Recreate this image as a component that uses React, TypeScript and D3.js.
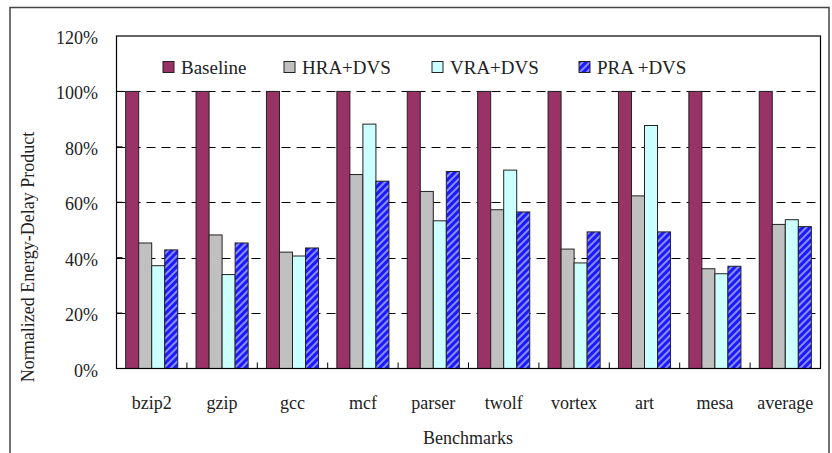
import React from 'react';
import * as d3 from 'd3';

// Benchmarks on the x axis
const categories = ['bzip2', 'gzip', 'gcc', 'mcf', 'parser', 'twolf', 'vortex', 'art', 'mesa', 'average'];

// Normalized energy-delay product (%) per configuration
const baseline = [100, 100, 100, 100, 100, 100, 100, 100, 100, 100];
const hraDvs = [45.3, 48.2, 42.0, 70.0, 63.9, 57.3, 43.1, 62.3, 36.0, 52.0];
const vraDvs = [37.1, 33.9, 40.6, 88.2, 53.3, 71.6, 38.1, 87.7, 34.2, 53.7];
const praDvs = [42.8, 45.3, 43.5, 67.6, 71.1, 56.5, 49.3, 49.3, 36.9, 51.2];

const seriesNames = ['Baseline', 'HRA+DVS', 'VRA+DVS', 'PRA +DVS'];
const yTicks = [0, 20, 40, 60, 80, 100, 120];

const W = 832;
const H = 453;
const plot = { left: 116.5, right: 820.5, top: 36, bottom: 368.5 };
const FONT = '"Liberation Serif", "Times New Roman", serif';

const fills = ['#993366', '#C0C0C0', '#CCFFFF', 'url(#praHatch)'];

export default function App() {
  const series = [baseline, hraDvs, vraDvs, praDvs];

  const x = d3.scaleBand<string>().domain(categories).range([plot.left, plot.right]).padding(0);
  const groupW = x.bandwidth() * 0.74;
  const xInner = d3
    .scaleBand<string>()
    .domain(seriesNames)
    .range([0, groupW])
    .padding(0);
  const y = d3.scaleLinear().domain([0, 120]).range([plot.bottom, plot.top]);
  const fmt = (v: number) => `${v}%`;

  const legendX = [163, 284, 432, 579];

  return (
    <svg
      width={W}
      height={H}
      style={{ position: 'absolute', left: 0, top: 0, background: '#fff' }}
      fontFamily={FONT}
    >
      <defs>
        <pattern id="praHatch" patternUnits="userSpaceOnUse" width="5" height="5" patternTransform="rotate(45)">
          <rect width="5" height="5" fill="#1a1aff" />
          <rect width="2" height="5" fill="#8c8cff" />
        </pattern>
      </defs>

      {/* outer chart frame */}
      <rect x={10} y={7.5} width={819} height={460} fill="#fff" stroke="#444" strokeWidth={1.5} />

      {/* dashed gridlines */}
      {yTicks
        .filter((t) => t > 0 && t < 120)
        .map((t) => (
          <line
            key={`g${t}`}
            x1={plot.left}
            x2={plot.right}
            y1={Math.round(y(t)) + 0.5}
            y2={Math.round(y(t)) + 0.5}
            stroke="#000"
            strokeWidth={1}
            strokeDasharray="9,6"
          />
        ))}

      {/* bars */}
      {categories.map((c, i) => {
        const gx = (x(c) as number) + (x.bandwidth() - groupW) / 2;
        return (
          <g key={c}>
            {series.map((s, k) => (
              <rect
                key={k}
                x={gx + (xInner(seriesNames[k]) as number)}
                y={y(s[i])}
                width={xInner.bandwidth()}
                height={y(0) - y(s[i])}
                fill={fills[k]}
                stroke="#222"
                strokeWidth={1}
              />
            ))}
          </g>
        );
      })}

      {/* plot frame */}
      <rect
        x={plot.left}
        y={plot.top}
        width={plot.right - plot.left}
        height={plot.bottom - plot.top}
        fill="none"
        stroke="#000"
        strokeWidth={1.2}
      />

      {/* y ticks and labels */}
      {yTicks.map((t) => (
        <g key={`y${t}`}>
          {t > 0 && t < 120 && (
            <line x1={plot.left} x2={plot.left + 6} y1={y(t)} y2={y(t)} stroke="#000" strokeWidth={1} />
          )}
          <text x={98} y={y(t) + 8} textAnchor="end" fontSize={18} fill="#222">
            {fmt(t)}
          </text>
        </g>
      ))}

      {/* x ticks at category boundaries */}
      {categories.slice(1).map((c) => (
        <line
          key={`xt${c}`}
          x1={x(c) as number}
          x2={x(c) as number}
          y1={plot.bottom}
          y2={plot.bottom - 6}
          stroke="#000"
          strokeWidth={1}
        />
      ))}

      {/* category labels */}
      {categories.map((c) => (
        <text
          key={`xl${c}`}
          x={(x(c) as number) + x.bandwidth() / 2}
          y={409}
          textAnchor="middle"
          fontSize={18}
          fill="#222"
        >
          {c}
        </text>
      ))}

      {/* axis titles */}
      <text x={468} y={444} textAnchor="middle" fontSize={18} fill="#222">
        Benchmarks
      </text>
      <text
        transform={`translate(34, 257) rotate(-90)`}
        textAnchor="middle"
        fontSize={18}
        fill="#222"
      >
        Normalized Energy-Delay Product
      </text>

      {/* legend */}
      {seriesNames.map((n, k) => (
        <g key={`lg${n}`}>
          <rect x={legendX[k]} y={61.5} width={11} height={11} fill={fills[k]} stroke="#222" strokeWidth={1} />
          <text x={legendX[k] + 18} y={74} fontSize={19} fill="#222">
            {n}
          </text>
        </g>
      ))}
    </svg>
  );
}
